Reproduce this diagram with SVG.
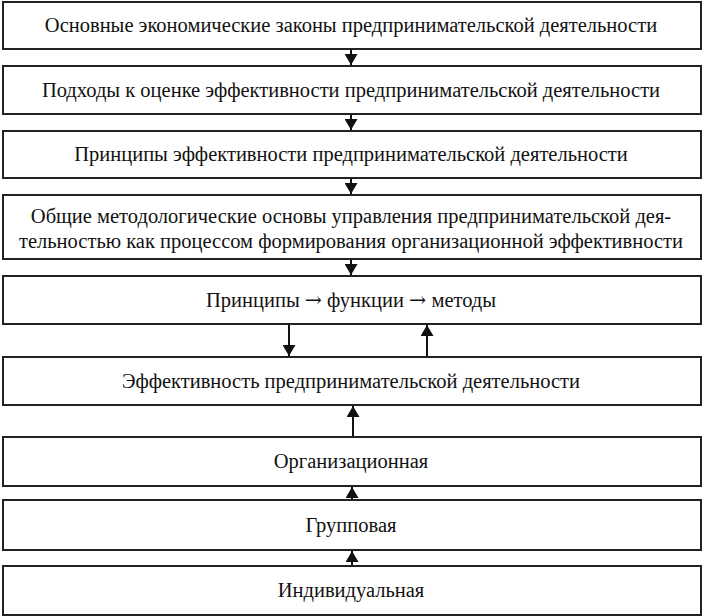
<svg xmlns="http://www.w3.org/2000/svg" width="703" height="616" viewBox="0 0 703 616">
<style>
rect.b{fill:#fff;stroke:#222;stroke-width:2}
text{font-family:"Liberation Serif","Times New Roman",serif;font-size:20.5px;fill:#111;text-anchor:middle}
.ar{font-family:"DejaVu Serif",serif}
.c line{stroke:#111;stroke-width:2}
</style>
<defs>
<marker id="ah" viewBox="0 0 11 13" refX="11" refY="6.5" markerWidth="11" markerHeight="13" markerUnits="userSpaceOnUse" orient="auto">
<path d="M0,0 L11,6.5 L0,13 Z" fill="#111"/>
</marker>
</defs>
<rect width="703" height="616" fill="#fff"/>
<g id="n1"><rect class="b" x="3" y="2" width="698" height="47"/><text x="351" y="32">Основные экономические законы предпринимательской деятельности</text></g>
<g id="n2"><rect class="b" x="3" y="66" width="698" height="48"/><text x="351" y="97">Подходы к оценке эффективности предпринимательской деятельности</text></g>
<g id="n3"><rect class="b" x="3" y="131" width="698" height="47"/><text x="351" y="161">Принципы эффективности предпринимательской деятельности</text></g>
<g id="n4"><rect class="b" x="3" y="195" width="698" height="64"/><text x="351" y="223">Общие методологические основы управления предпринимательской дея-</text><text x="351" y="248">тельностью как процессом формирования организационной эффективности</text></g>
<g id="n5"><rect class="b" x="3" y="276" width="698" height="48"/><text x="351" y="307">Принципы <tspan class="ar">→</tspan> функции <tspan class="ar">→</tspan> методы</text></g>
<g id="n6"><rect class="b" x="3" y="357" width="698" height="48"/><text x="351" y="388">Эффективность предпринимательской деятельности</text></g>
<g id="n7"><rect class="b" x="3" y="437" width="698" height="49"/><text x="351" y="468">Организационная</text></g>
<g id="n8"><rect class="b" x="3" y="500" width="698" height="50"/><text x="351" y="532">Групповая</text></g>
<g id="n9"><rect class="b" x="3" y="566" width="698" height="49"/><text x="351" y="597">Индивидуальная</text></g>
<g class="c">
<line x1="351" y1="50" x2="351" y2="65" marker-end="url(#ah)"/>
<line x1="351" y1="115" x2="351" y2="130" marker-end="url(#ah)"/>
<line x1="351" y1="179" x2="351" y2="194" marker-end="url(#ah)"/>
<line x1="351" y1="260" x2="351" y2="275" marker-end="url(#ah)"/>
<line x1="289" y1="325" x2="289" y2="356" marker-end="url(#ah)"/>
<line x1="427" y1="356" x2="427" y2="325" marker-end="url(#ah)"/>
<line x1="353" y1="436" x2="353" y2="406" marker-end="url(#ah)"/>
<line x1="352" y1="499" x2="352" y2="487" marker-end="url(#ah)"/>
<line x1="352" y1="565" x2="352" y2="551" marker-end="url(#ah)"/>
</g>
</svg>
